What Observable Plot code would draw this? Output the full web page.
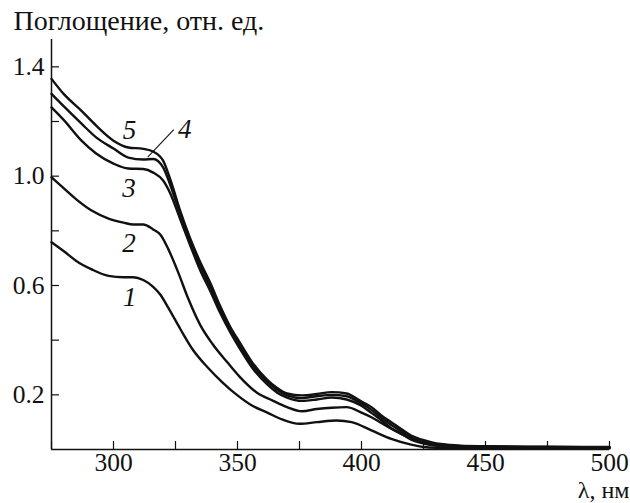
<!DOCTYPE html>
<html><head><meta charset="utf-8">
<script src="https://cdn.jsdelivr.net/npm/d3@7"></script>
<script src="https://cdn.jsdelivr.net/npm/@observablehq/plot@0.6"></script>
<style>
body{margin:0;background:#fff}
svg{display:block}
svg, svg text{font-family:"Liberation Serif","Times New Roman",serif !important;}
</style>
</head><body><div id="chart"></div>
<script>
// Series data (wavelength, nm / absorbance, rel. units)
const wl1  = [275,280,285,291,298,304,308,312,316,319,322,327,332,338,344,350,356,362,368,375,382,390,396,404,412,420,425,430,440,450,475,500];
const abs1 = [0.758,0.725,0.69,0.66,0.635,0.63,0.63,0.62,0.595,0.565,0.52,0.44,0.365,0.3,0.245,0.198,0.16,0.135,0.11,0.094,0.1,0.106,0.1,0.07,0.039,0.018,0.009,0.006,0.005,0.005,0.004,0.004];

const wl2  = [275,280,285,291,298,304,308,312,316,319,322,326,330,335,340,346,351,358,364,370,376,382,388,394,400,404,408,412,416,420,424,428,432,436,440,450,475,500];
const abs2 = [0.996,0.955,0.915,0.875,0.845,0.83,0.823,0.823,0.805,0.785,0.735,0.65,0.555,0.455,0.385,0.318,0.265,0.207,0.18,0.155,0.14,0.148,0.153,0.155,0.135,0.118,0.097,0.076,0.057,0.039,0.027,0.018,0.013,0.01,0.009,0.008,0.007,0.006];

const wlB  = [275,280,287,293,300,306,312,316,320,323,327,331,335,339,343,347,351,356,362,366,370,376,382,388,394,400,404,408,412,416,420,424,428,432,436,440,450,475,500];
const abs3 = [1.252,1.205,1.131,1.083,1.046,1.028,1.026,1.013,0.984,0.935,0.84,0.745,0.655,0.58,0.5,0.43,0.368,0.298,0.238,0.208,0.19,0.178,0.183,0.19,0.183,0.16,0.134,0.107,0.078,0.058,0.036,0.024,0.016,0.012,0.01,0.009,0.009,0.008,0.007];
const abs4 = [1.301,1.255,1.193,1.142,1.101,1.068,1.061,1.063,1.032,0.965,0.86,0.76,0.672,0.595,0.512,0.44,0.378,0.308,0.248,0.218,0.198,0.188,0.195,0.2,0.195,0.168,0.145,0.116,0.09,0.067,0.044,0.03,0.022,0.017,0.014,0.012,0.011,0.009,0.008];
const abs5 = [1.356,1.30,1.24,1.185,1.13,1.105,1.10,1.09,1.057,0.985,0.87,0.77,0.685,0.61,0.525,0.45,0.39,0.318,0.255,0.225,0.205,0.198,0.203,0.21,0.205,0.175,0.155,0.125,0.1,0.075,0.051,0.037,0.027,0.02,0.017,0.014,0.012,0.01,0.009];

const seriesNames = ["1","2","3","4","5"];
const seriesWl = [wl1, wl2, wlB, wlB, wlB];
const seriesAbs = [abs1, abs2, abs3, abs4, abs5];

// Curve label anchors (wavelength, absorbance)
const labelText = ["1","2","3","4","5"];
const labelWl   = [306.6, 306.2, 306.2, 328.7, 306.5];
const labelAbs  = [0.556, 0.754, 0.955, 1.171, 1.167];
// Leader line for label 4
const leaderWl  = [324.3, 313.8];
const leaderAbs = [1.17, 1.07];

// Axis ticks
const xTicksAll = [275,300,325,350,375,400,425,450,475,500];
const xTickLabels = [300,350,400,450,500];
const yTicksAll = [0.2,0.4,0.6,0.8,1.0,1.2,1.4];
const yTickLabels = [0.2,0.6,1.0,1.4];
const yTitle = "Поглощение, отн. ед.";
const xTitle = "λ, нм";

const rows = [];
seriesNames.forEach((s, i) => seriesWl[i].forEach((w, j) => rows.push({series: s, wl: w, a: seriesAbs[i][j]})));
const labels = labelText.map((t, i) => ({t, wl: labelWl[i], a: labelAbs[i]}));

const W = 630, H = 503, mL = 51, mR = 21, mT = 39, mB = 54;
const ink = "#111";
const serif = "Liberation Serif";
const fsTick = 25.5, fsTitle = 28;

const chart = Plot.plot({
  width: W, height: H,
  marginLeft: mL, marginRight: mR, marginTop: mT, marginBottom: mB,
  style: {fontFamily: serif, fontSize: fsTick + "px", background: "#fff", color: ink},
  x: {domain: [275, 500]},
  y: {domain: [0, 1.5]},
  marks: [
    Plot.line(rows, {x: "wl", y: "a", z: "series", stroke: ink, strokeWidth: 2.4, curve: "monotone-x"}),
    Plot.ruleY([0], {stroke: ink, strokeWidth: 1.5}),
    Plot.ruleX([275], {stroke: ink, strokeWidth: 1.5}),
    Plot.tickY(yTicksAll, {y: d => d, stroke: ink, strokeWidth: 1.2, insetRight: (W - mL - mR) - 8}),
    Plot.tickX(xTicksAll, {x: d => d, stroke: ink, strokeWidth: 1.2, insetTop: (H - mT - mB) - 8}),
    Plot.axisY({ticks: yTickLabels, tickFormat: d => d.toFixed(1), tickSize: 0, tickPadding: 7, fontSize: fsTick, fontFamily: serif, label: null, fill: ink}),
    Plot.axisX({ticks: xTickLabels, tickFormat: d => String(d), tickSize: 0, tickPadding: 3.5, fontSize: fsTick, fontFamily: serif, label: null, fill: ink}),
    Plot.text(labels, {x: "wl", y: "a", text: "t", fontStyle: "italic", fontSize: 27, fontFamily: serif, fill: ink}),
    Plot.link([0], {x1: () => leaderWl[0], y1: () => leaderAbs[0], x2: () => leaderWl[1], y2: () => leaderAbs[1], stroke: ink, strokeWidth: 1.1}),
    Plot.text([yTitle], {text: d => d, frameAnchor: "top-left", dx: -38, dy: -10, textAnchor: "start", lineAnchor: "bottom", fontSize: fsTitle, fontFamily: serif, fill: ink}),
    Plot.text([xTitle], {text: d => d, frameAnchor: "bottom-right", dx: 20, dy: 48.5, textAnchor: "end", lineAnchor: "bottom", fontSize: 24, fontFamily: serif, fill: ink})
  ]
});
document.getElementById("chart").appendChild(chart);
</script>
</body></html>
